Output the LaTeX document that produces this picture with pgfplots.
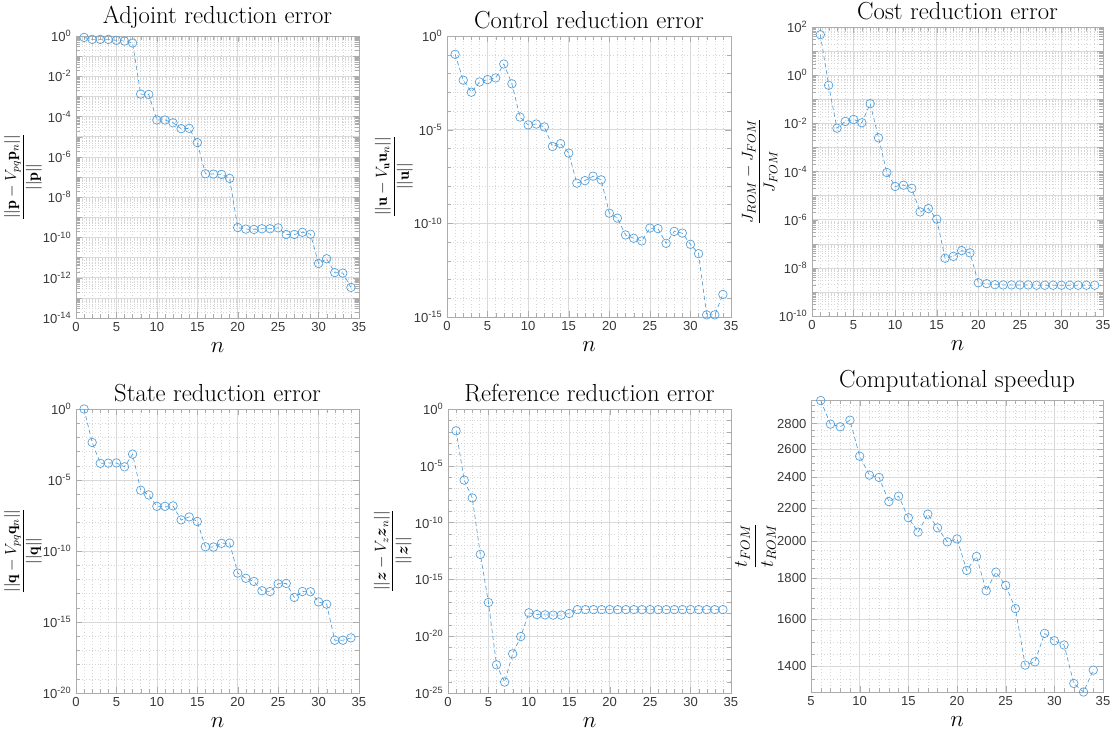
\documentclass[border=0pt]{standalone}
\usepackage{fontspec}
\usepackage{amsmath,amssymb}
\usepackage{pgfplots}
\pgfplotsset{compat=1.18}
\newfontfamily\tickfont{Liberation Sans}
\definecolor{mblue}{RGB}{80,158,218}
\newcommand{\e}[1]{10\textsuperscript{#1}}
\pgfplotsset{
  myax/.style={
    scale only axis, anchor=north west,
    xmin=0, xmax=35, xtick={0,5,...,35}, minor x tick num=4,
    grid=both,
    major grid style={draw=gray!30, line width=0.35pt},
    minor grid style={draw=gray!32, dotted, line width=0.3pt},
    axis line style={draw=gray!65},
    tick style={draw=gray!65},
    tick label style={font=\tickfont\fontsize{9.8}{11}\selectfont, text=black!78},
    /pgf/number format/assume math mode=true,
    title style={font=\fontsize{18.5}{21}\selectfont, yshift=-4pt},
    xlabel={$n$}, xlabel style={font=\fontsize{17}{19}\selectfont, yshift=-1pt},
    ylabel style={font=\fontsize{12}{14}\selectfont, at={(axis description cs:-0.187,0.5)}, anchor=center},
  },
  mline/.style={color=mblue, line width=0.5pt, dash pattern=on 3.2pt off 2.2pt,
    mark=o, mark size=3.2pt, mark options={solid, line width=0.5pt}},
}
\begin{document}
\begin{tikzpicture}
\useasboundingbox (0,0) rectangle (837.75pt,-553.5pt);
% ---------- Adjoint
\begin{axis}[myax, at={(57pt,-27pt)}, width=212.25pt, height=211.5pt,
  ymode=log, ymin=1e-14, ymax=1,
  ytick={1e-14,1e-13,1e-12,1e-11,1e-10,1e-9,1e-8,1e-7,1e-6,1e-5,1e-4,1e-3,1e-2,1e-1,1},
  yticklabels={\e{-14},,\e{-12},,\e{-10},,\e{-8},,\e{-6},,\e{-4},,\e{-2},,\e{0}},
  title={Adjoint reduction error},
  ylabel={$\displaystyle\frac{||\mathbf{p}-V_{pq}\mathbf{p}_n||}{||\mathbf{p}||}$}]
\addplot[mline] coordinates {(1,0.85)(2,0.68)(3,0.68)(4,0.68)(5,0.61)(6,0.56)(7,0.45)(8,1.3e-3)(9,1.25e-3)(10,6.8e-5)(11,6.8e-5)(12,4.9e-5)(13,2.5e-5)(14,2.6e-5)(15,5.1e-6)(16,1.45e-7)(17,1.4e-7)(18,1.35e-7)(19,8.5e-8)(20,3.1e-10)(21,2.6e-10)(22,2.5e-10)(23,2.7e-10)(24,2.7e-10)(25,3e-10)(26,1.4e-10)(27,1.4e-10)(28,1.8e-10)(29,1.45e-10)(30,5.1e-12)(31,8.7e-12)(32,1.8e-12)(33,1.7e-12)(34,3.3e-13)};
\end{axis}
% ---------- Control
\begin{axis}[myax, at={(335.25pt,-27pt)}, width=213pt, height=210.75pt,
  ymode=log, ymin=1e-15, ymax=1,
  ytick={1e-15,1e-10,1e-5,1},
  yticklabels={\e{-15},\e{-10},\e{-5},\e{0}},
  minor ytick={1e-14,1e-13,1e-12,1e-11,1e-9,1e-8,1e-7,1e-6,1e-4,1e-3,1e-2,1e-1},
  title={Control reduction error},
  ylabel={$\displaystyle\frac{||\mathbf{u}-V_{\mathbf{u}}\mathbf{u}_n||}{||\mathbf{u}||}$}]
\addplot[mline] coordinates {(1,1.05e-1)(2,4.4e-3)(3,1e-3)(4,3.5e-3)(5,4.7e-3)(6,5.8e-3)(7,3.2e-2)(8,2.8e-3)(9,4.7e-5)(10,1.8e-5)(11,2.0e-5)(12,1.4e-5)(13,1.26e-6)(14,1.8e-6)(15,5.6e-7)(16,1.4e-8)(17,1.9e-8)(18,3.3e-8)(19,2.1e-8)(20,3.5e-10)(21,1.9e-10)(22,2.4e-11)(23,1.6e-11)(24,1.15e-11)(25,5.6e-11)(26,5.2e-11)(27,8.6e-12)(28,3.7e-11)(29,3.0e-11)(30,7.6e-12)(31,2.4e-12)(32,1.3e-15)(33,1.3e-15)(34,1.6e-14)};
\end{axis}
% ---------- Cost
\begin{axis}[myax, at={(609pt,-20.25pt)}, width=218.25pt, height=216.75pt,
  ymode=log, ymin=1e-10, ymax=1e2,
  ytick={1e-10,1e-9,1e-8,1e-7,1e-6,1e-5,1e-4,1e-3,1e-2,1e-1,1,1e1,1e2},
  yticklabels={\e{-10},,\e{-8},,\e{-6},,\e{-4},,\e{-2},,\e{0},,\e{2}},
  title={Cost reduction error},
  ylabel style={font=\fontsize{13}{15}\selectfont, at={(axis description cs:-0.18,0.5)}},
  ylabel={$\displaystyle\frac{J_{ROM}-J_{FOM}}{J_{FOM}}$}]
\addplot[mline] coordinates {(1,48)(2,0.38)(3,6.3e-3)(4,1.2e-2)(5,1.45e-2)(6,1.06e-2)(7,6.5e-2)(8,2.5e-3)(9,9.1e-5)(10,2.4e-5)(11,2.7e-5)(12,2.0e-5)(13,2.1e-6)(14,2.9e-6)(15,1.05e-6)(16,2.5e-8)(17,3.0e-8)(18,5.2e-8)(19,4.2e-8)(20,2.4e-9)(21,2.2e-9)(22,2.0e-9)(23,1.95e-9)(24,1.95e-9)(25,1.95e-9)(26,1.95e-9)(27,1.9e-9)(28,1.9e-9)(29,1.9e-9)(30,1.9e-9)(31,1.9e-9)(32,1.9e-9)(33,1.9e-9)(34,1.9e-9)};
\end{axis}
% ---------- State
\begin{axis}[myax, at={(57pt,-306.75pt)}, width=212.25pt, height=213pt,
  ymode=log, ymin=1e-20, ymax=1,
  ytick={1e-20,1e-15,1e-10,1e-5,1},
  yticklabels={\e{-20},\e{-15},\e{-10},\e{-5},\e{0}},
  minor ytick={1e-19,1e-18,1e-17,1e-16,1e-14,1e-13,1e-12,1e-11,1e-9,1e-8,1e-7,1e-6,1e-4,1e-3,1e-2,1e-1},
  title={State reduction error},
  ylabel={$\displaystyle\frac{||\mathbf{q}-V_{pq}\mathbf{q}_n||}{||\mathbf{q}||}$}]
\addplot[mline] coordinates {(1,1)(2,4.4e-3)(3,1.5e-4)(4,1.55e-4)(5,1.6e-4)(6,8.5e-5)(7,6.6e-4)(8,1.9e-6)(9,8.9e-7)(10,1.4e-7)(11,1.4e-7)(12,1.5e-7)(13,1.55e-8)(14,2.5e-8)(15,1.2e-8)(16,2.0e-10)(17,1.9e-10)(18,3.5e-10)(19,3.6e-10)(20,2.8e-12)(21,1.2e-12)(22,7.2e-13)(23,1.6e-13)(24,1.4e-13)(25,4.9e-13)(26,5.2e-13)(27,5.4e-14)(28,1.4e-13)(29,1.35e-13)(30,2.6e-14)(31,1.8e-14)(32,5.2e-17)(33,5.2e-17)(34,7.6e-17)};
\end{axis}
% ---------- Reference
\begin{axis}[myax, at={(336pt,-306.75pt)}, width=212.25pt, height=213pt,
  ymode=log, ymin=1e-25, ymax=1,
  ytick={1e-25,1e-20,1e-15,1e-10,1e-5,1},
  yticklabels={\e{-25},\e{-20},\e{-15},\e{-10},\e{-5},\e{0}},
  minor ytick={1e-24,1e-23,1e-22,1e-21,1e-19,1e-18,1e-17,1e-16,1e-14,1e-13,1e-12,1e-11,1e-9,1e-8,1e-7,1e-6,1e-4,1e-3,1e-2,1e-1},
  title={Reference reduction error},
  ylabel style={at={(axis description cs:-0.195,0.5)}},
  ylabel={$\displaystyle\frac{||\boldsymbol{z}-V_{z}\boldsymbol{z}_n||}{||\boldsymbol{z}||}$}]
\addplot[mline] coordinates {(1,1.2e-2)(2,5.5e-7)(3,1.5e-8)(4,1.6e-13)(5,9.3e-18)(6,3e-23)(7,9.3e-25)(8,2.8e-22)(9,9.3e-21)(10,1.15e-18)(11,8.1e-19)(12,7.6e-19)(13,7.2e-19)(14,7.2e-19)(15,1e-18)(16,2.2e-18)(17,2.2e-18)(18,2.2e-18)(19,2.2e-18)(20,2.2e-18)(21,2.2e-18)(22,2.2e-18)(23,2.2e-18)(24,2.2e-18)(25,2.2e-18)(26,2.2e-18)(27,2.2e-18)(28,2.2e-18)(29,2.2e-18)(30,2.2e-18)(31,2.2e-18)(32,2.2e-18)(33,2.2e-18)(34,2.2e-18)};
\end{axis}
% ---------- Speedup
\begin{axis}[myax, at={(608.25pt,-300pt)}, width=219pt, height=219pt,
  xmin=5, xmax=35, xtick={5,10,...,35},
  ymode=log, ymin=1300, ymax=2995,
  ytick={1400,1600,1800,2000,2200,2400,2600,2800},
  yticklabels={1400,1600,1800,2000,2200,2400,2600,2800},
  minor ytick={1300,1350,1450,1500,1550,1650,1700,1750,1850,1900,1950,2050,2100,2150,2250,2300,2350,2450,2500,2550,2650,2700,2750,2850,2900,2950},
  title={Computational speedup},
  ylabel style={font=\fontsize{14}{16}\selectfont, at={(axis description cs:-0.19,0.5)}},
  ylabel={$\displaystyle\frac{t_{FOM}}{t_{ROM}}$}]
\addplot[mline] coordinates {(6,2990)(7,2795)(8,2774)(9,2827)(10,2550)(11,2416)(12,2400)(13,2240)(14,2275)(15,2139)(16,2053)(17,2161)(18,2078)(19,1997)(20,2013)(21,1840)(22,1915)(23,1736)(24,1831)(25,1763)(26,1650)(27,1404)(28,1417)(29,1537)(30,1505)(31,1487)(32,1332)(33,1300)(34,1384)};
\end{axis}
\end{tikzpicture}
\end{document}
